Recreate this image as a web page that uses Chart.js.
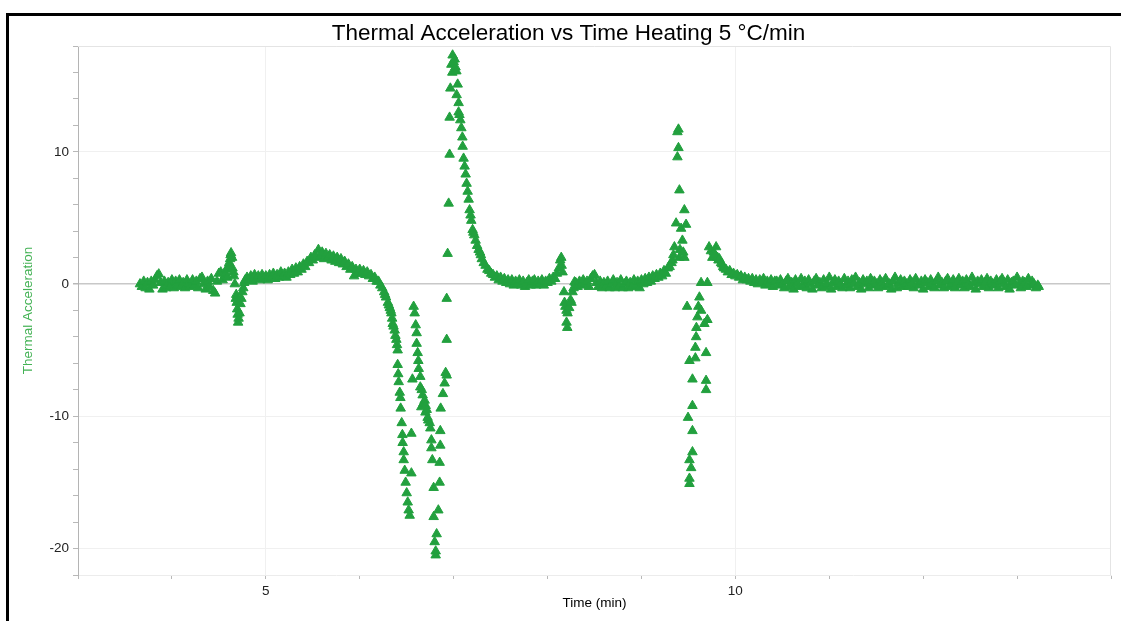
<!DOCTYPE html>
<html>

<head>
    <meta charset="utf-8">
    <title>Thermal Acceleration vs Time</title>
    <script src="https://cdn.jsdelivr.net/npm/chart.js"></script>
    <style>
        html, body { margin: 0; padding: 0; background: #fff; overflow: hidden; }
        #wrap { position: relative; width: 1121px; height: 621px; }
        #frame {
            position: absolute; left: 6px; top: 13px; width: 1200px; height: 700px;
            border-top: 3px solid #000; border-left: 3px solid #000;
            pointer-events: none;
        }
    </style>
</head>

<body>
    <div id="wrap">
        <canvas id="myChart" width="1121" height="621"></canvas>
        <div id="frame"></div>
    </div>

    <script>
        // [time (min), thermal acceleration], one array per stretch of the run
        var segStart = [
            [3.66,0.0],[3.68,-0.2],[3.70,0.2],[3.72,-0.3],[3.74,0.1],[3.76,-0.4],[3.78,0.2],[3.80,-0.1],[3.82,0.3],[3.84,0.6],
            [3.86,0.75],[3.88,0.1],[3.90,-0.4],[3.92,0.2],[3.94,-0.3],[3.96,0.1],[3.98,-0.2],[4.00,0.3],[4.02,-0.3],[4.04,0.2],
            [4.06,-0.1],[4.08,0.3],[4.10,-0.2],[4.12,0.1],[4.14,-0.3],[4.16,0.3],[4.18,0.0],[4.20,-0.2],[4.22,0.3],[4.24,-0.1],
            [4.26,0.2],[4.28,-0.3],[4.30,0.4],[4.32,0.5],[4.34,0.0],[4.36,-0.4],[4.38,0.2],[4.40,-0.2],[4.42,0.4],[4.44,-0.5],
            [4.46,-0.7],[4.48,0.2],[4.50,0.8],[4.52,0.9],[4.54,0.3]
        ];
        var segBump = [
            [4.56,0.6],[4.57,0.8],[4.58,1.1],[4.59,0.5],[4.60,1.3],[4.61,1.6],[4.62,1.9],[4.625,2.2],[4.63,2.35],[4.64,2.0],
            [4.645,1.2],[4.655,0.9],[4.66,0.6],[4.67,0.0],[4.68,-1.1],[4.685,-0.8],[4.69,-1.4],[4.695,-1.9],[4.70,-2.3],[4.705,-2.9],
            [4.71,-2.6],[4.72,-2.2],[4.73,-1.5],[4.74,-1.1],[4.75,-0.6],[4.76,-0.3],[4.77,0.1],[4.78,0.3]
        ];
        var segHump = [
            [4.80,0.5],[4.82,0.3],[4.84,0.6],[4.86,0.2],[4.88,0.7],[4.90,0.4],[4.92,0.6],[4.94,0.3],[4.96,0.7],[4.98,0.4],
            [5.00,0.6],[5.02,0.3],[5.04,0.7],[5.06,0.5],[5.08,0.8],[5.10,0.4],[5.12,0.7],[5.14,0.5],[5.16,0.9],[5.18,0.6],
            [5.20,0.8],[5.22,0.5],[5.24,0.9],[5.26,0.7],[5.28,1.1],[5.30,0.8],[5.32,1.2],[5.34,0.9],[5.36,1.3],[5.38,1.1],
            [5.40,1.5],[5.42,1.3],[5.44,1.7],[5.46,1.6],[5.48,2.0],[5.50,1.8],[5.52,2.2],[5.54,2.0],[5.56,2.6],[5.58,2.1],
            [5.60,2.4],[5.62,1.9],[5.64,2.3],[5.66,2.0],[5.68,2.2],[5.70,1.8],[5.72,2.1],[5.74,1.7],[5.76,2.0],[5.78,1.6],
            [5.80,1.9],[5.82,1.5],[5.84,1.7],[5.86,1.3],[5.88,1.5],[5.90,1.1],[5.92,1.3],[5.94,0.6],[5.96,1.1],[5.98,0.8],
            [6.00,1.1],[6.02,0.8],[6.04,1.0],[6.06,0.7],[6.08,0.9],[6.10,0.6],[6.12,0.7],[6.14,0.4],[6.16,0.5],[6.18,0.2],
            [6.20,0.2],[6.22,-0.1]
        ];
        var segDrop1 = [
            [6.24,-0.3],[6.26,-0.6],[6.27,-0.8],[6.28,-1.0],[6.30,-1.4],[6.31,-1.6],[6.32,-1.8],[6.33,-2.0],[6.337,-2.2],[6.345,-2.6],
            [6.351,-3.0],[6.36,-3.2],[6.372,-3.5],[6.38,-3.9],[6.39,-4.2],[6.397,-4.6],[6.404,-5.0],[6.404,-6.1],[6.41,-6.8],[6.415,-7.4],
            [6.426,-8.2],[6.433,-8.6],[6.436,-9.4],[6.447,-10.5],[6.454,-11.4],[6.457,-12.0],[6.468,-12.7],[6.468,-13.3],[6.479,-14.1],[6.489,-15.0],
            [6.50,-15.8],[6.511,-16.5],[6.521,-17.1],[6.532,-17.5],[6.55,-11.3],[6.55,-14.3],[6.561,-7.2]
        ];
        var segDrop2 = [
            [6.574,-1.7],[6.585,-2.2],[6.596,-3.1],[6.606,-3.7],[6.606,-4.5],[6.617,-5.2],[6.624,-5.8],[6.628,-6.4],[6.645,-7.0],[6.645,-7.8],
            [6.656,-9.3],[6.66,-8.0],[6.670,-8.4],[6.68,-9.0],[6.691,-8.8],[6.70,-9.7],[6.702,-9.2],[6.713,-9.5],[6.723,-10.1],[6.73,-10.3],
            [6.745,-10.5],[6.752,-10.9],[6.763,-11.8],[6.763,-12.4],[6.773,-13.3],[6.787,-15.4],[6.787,-17.6],[6.798,-19.5],[6.809,-20.2],[6.809,-20.5]
        ];
        var segRise = [
            [6.819,-18.9],[6.837,-17.1],[6.851,-15.0],[6.851,-13.5],[6.858,-12.2],[6.858,-11.1],[6.862,-9.4],[6.886,-8.3],[6.904,-7.5],[6.915,-6.7],
            [6.926,-6.9],[6.926,-4.2],[6.926,-1.1]
        ];
        var segPeak = [
            [6.936,2.3],[6.947,6.1],[6.957,9.8],[6.957,12.6],[6.965,14.8],[6.976,16.6],[6.986,16.0],[6.989,17.3],[7.00,16.8],[7.011,17.0],
            [7.02,16.4],[7.029,16.1]
        ];
        var segDecay = [
            [7.032,14.3],[7.043,15.1],[7.053,13.7],[7.053,13.0],[7.062,12.8],[7.071,12.4],[7.082,11.8],[7.093,11.1],[7.096,10.4],[7.106,9.5],
            [7.117,8.9],[7.128,8.3],[7.138,7.6],[7.149,7.0],[7.160,6.4],[7.170,5.6],[7.18,5.2],[7.188,4.8],[7.202,4.1],[7.21,3.9],
            [7.22,3.7],[7.234,3.3],[7.25,2.9],[7.266,2.6],[7.28,2.4],[7.29,2.2],[7.30,1.9],[7.32,1.6],[7.34,1.4],[7.36,1.1],
            [7.38,1.0],[7.40,0.8],[7.42,0.7],[7.44,0.5],[7.46,0.6],[7.48,0.3],[7.50,0.5],[7.52,0.2],[7.54,0.4],[7.56,0.1],
            [7.58,0.3],[7.60,0.0],[7.62,0.3],[7.64,-0.1],[7.66,0.2],[7.68,0.0],[7.70,0.3],[7.72,-0.1],[7.74,0.2],[7.76,-0.2],
            [7.78,0.1],[7.80,0.3],[7.82,-0.1],[7.84,0.2]
        ];
        var segSmallPeak = [
            [7.86,0.3],[7.88,-0.1],[7.90,0.2],[7.92,0.0],[7.94,0.3],[7.96,-0.1],[7.98,0.2],[8.00,0.1],[8.02,0.4],[8.04,0.2],
            [8.06,0.5],[8.08,0.4],[8.10,0.8],[8.12,1.2],[8.135,1.8],[8.146,2.0],[8.15,1.4],[8.16,0.9],[8.175,-0.6],[8.181,-1.4],
            [8.19,-1.7],[8.202,-2.0],[8.202,-2.9],[8.21,-3.3],[8.213,-2.2],[8.23,-1.8],[8.245,-1.2],[8.255,-1.4],[8.266,-0.6],[8.277,-0.3],
            [8.287,0.15]
        ];
        var segFlat2 = [
            [8.30,0.1],[8.32,-0.2],[8.34,0.2],[8.36,-0.1],[8.38,0.3],[8.40,0.0],[8.42,0.2],[8.44,-0.2],[8.46,0.4],[8.48,0.6],
            [8.50,0.7],[8.52,0.1],[8.54,-0.2],[8.56,0.2],[8.58,-0.3],[8.60,0.1],[8.62,-0.2],[8.64,0.2],[8.66,-0.3],[8.68,0.0],
            [8.70,0.3],[8.72,-0.3],[8.74,0.1],[8.76,-0.2],[8.78,0.3],[8.80,-0.3],[8.82,0.0],[8.84,0.2],[8.86,-0.3],[8.88,0.1],
            [8.90,-0.2],[8.92,0.3],[8.94,-0.1],[8.96,0.2],[8.98,-0.3],[9.00,0.3],[9.02,0.0],[9.04,0.4],[9.06,0.1],[9.08,0.5],
            [9.10,0.2],[9.12,0.6],[9.14,0.4],[9.16,0.7],[9.18,0.5],[9.20,0.8]
        ];
        var segSpike = [
            [9.22,0.6],[9.24,1.0],[9.26,0.8],[9.28,1.2],[9.30,1.3],[9.32,1.6],[9.33,1.8],[9.34,2.2],[9.351,2.8],[9.369,4.6],
            [9.383,9.6],[9.383,11.5],[9.394,10.3],[9.394,11.7],[9.404,7.1],[9.404,2.0],[9.41,2.6],[9.422,4.2],[9.436,3.3],[9.445,2.4],
            [9.457,2.0],[9.457,5.6],[9.475,4.5]
        ];
        var segSpikeDip = [
            [9.486,-1.7],[9.511,-5.8],[9.543,-7.2],[9.543,-9.2],[9.496,-10.1],[9.543,-11.1],[9.543,-12.7],[9.511,-13.3],[9.529,-13.9],[9.511,-14.7],
            [9.511,-15.1],[9.574,-5.6],[9.574,-4.8],[9.582,-4.0],[9.585,-3.3],[9.596,-2.5],[9.606,-1.7],[9.617,-1.0],[9.635,0.1],[9.635,-2.0],
            [9.670,-3.0],[9.702,-2.7],[9.688,-5.2],[9.688,-7.3],[9.688,-8.0],[9.702,0.1]
        ];
        var segAfter = [
            [9.72,2.8],[9.74,2.5],[9.755,2.0],[9.77,2.4],[9.78,2.2],[9.795,2.8],[9.81,2.0],[9.82,1.8],[9.83,1.9],[9.848,1.6],
            [9.86,1.5],[9.87,1.3],[9.88,1.2],[9.90,1.1],[9.92,0.9],[9.94,1.0],[9.96,0.7],[9.98,0.8],[10.00,0.6],[10.02,0.7],
            [10.04,0.5],[10.06,0.6],[10.08,0.3],[10.10,0.5],[10.12,0.3],[10.14,0.4],[10.16,0.2],[10.18,0.4],[10.20,0.1],[10.22,0.3],
            [10.24,0.0],[10.26,0.3],[10.28,0.1],[10.30,0.4],[10.32,-0.1],[10.34,0.2],[10.36,0.0],[10.38,0.3],[10.40,-0.2],[10.42,0.2]
        ];
        var segTail = [
            [10.44,0.2],[10.46,-0.1],[10.48,0.3],[10.50,0.0],[10.52,-0.3],[10.54,0.2],[10.56,0.4],[10.58,-0.2],[10.60,0.1],[10.62,-0.4],
            [10.64,0.3],[10.66,0.0],[10.68,-0.2],[10.70,0.4],[10.72,-0.1],[10.74,0.2],[10.76,-0.3],[10.78,0.3],[10.80,0.0],[10.82,-0.4],
            [10.84,0.2],[10.86,0.4],[10.88,-0.1],[10.90,0.1],[10.92,-0.3],[10.94,0.3],[10.96,-0.2],[10.98,0.0],[11.00,0.5],[11.02,-0.4],
            [11.04,0.1],[11.06,0.3],[11.08,-0.2],[11.10,0.2],[11.12,0.0],[11.14,-0.3],[11.16,0.4],[11.18,-0.1],[11.20,0.2],[11.22,-0.3],
            [11.24,0.3],[11.26,0.0],[11.28,0.5],[11.30,-0.2],[11.32,0.1],[11.34,-0.4],[11.36,0.3],[11.38,0.0],[11.40,0.2],[11.42,-0.3],
            [11.44,0.4],[11.46,-0.1],[11.48,0.2],[11.50,0.0],[11.52,-0.3],[11.54,0.3],[11.56,0.1],[11.58,-0.2],[11.60,0.4],[11.62,-0.1],
            [11.64,0.0],[11.66,-0.4],[11.68,0.2],[11.70,0.5],[11.72,-0.3],[11.74,0.1],[11.76,0.3],[11.78,-0.2],[11.80,0.2],[11.82,0.0],
            [11.84,-0.2],[11.86,0.3],[11.88,0.1],[11.90,-0.3],[11.92,0.4],[11.94,0.0],[11.96,-0.1],[11.98,0.2],[12.00,-0.4],[12.02,0.3],
            [12.04,0.1],[12.06,-0.2],[12.08,0.3],[12.10,0.0],[12.12,-0.3],[12.14,0.2],[12.16,0.5],[12.18,-0.1],[12.20,0.1],[12.22,-0.3],
            [12.24,0.2],[12.26,0.4],[12.28,-0.2],[12.30,0.0],[12.32,0.3],[12.34,-0.3],[12.36,0.1],[12.38,0.4],[12.40,-0.1],[12.42,0.2],
            [12.44,-0.3],[12.46,0.3],[12.48,0.0],[12.50,-0.2],[12.52,0.5],[12.54,0.1],[12.56,-0.4],[12.58,0.2],[12.60,0.0],[12.62,0.3],
            [12.64,-0.2],[12.66,0.1],[12.68,0.4],[12.70,-0.3],[12.72,0.2],[12.74,0.0],[12.76,-0.1],[12.78,0.3],[12.80,-0.3],[12.82,0.2],
            [12.84,0.4],[12.86,0.0],[12.88,-0.2],[12.90,0.3],[12.92,-0.4],[12.94,0.1],[12.96,0.2],[12.98,-0.1],[13.00,0.5],[13.02,0.0],
            [13.04,-0.3],[13.06,0.2],[13.08,0.1],[13.10,-0.2],[13.12,0.4],[13.14,-0.1],[13.16,0.2],[13.18,0.0],[13.20,-0.3],[13.22,-0.1],
            [13.23,-0.2]
        ];
        var xLabelTicks = [5, 10];
        var yLabelTicks = [-20, -10, 0, 10];

        var GREEN = '#22a03e';

        var points = [].concat(segStart, segBump, segHump, segDrop1, segDrop2, segRise, segPeak, segDecay,
            segSmallPeak, segFlat2, segSpike, segSpikeDip, segAfter, segTail).map(function (p) {
            return { x: p[0], y: p[1] };
        });

        // faint top/right edge of the plot box
        var boxEdge = {
            id: 'boxEdge',
            afterDraw: function (chart) {
                var a = chart.chartArea, c = chart.ctx;
                c.save();
                c.strokeStyle = '#e4e4e4';
                c.lineWidth = 1;
                c.beginPath();
                c.moveTo(a.left, a.top + 0.5);
                c.lineTo(a.right - 0.5, a.top + 0.5);
                c.lineTo(a.right - 0.5, a.bottom);
                c.stroke();
                c.restore();
            }
        };

        Chart.defaults.font.family = '"Liberation Sans", Arial, sans-serif';

        const ctx = document.getElementById('myChart').getContext('2d');
        const myChart = new Chart(ctx, {
            type: 'scatter',
            data: {
                datasets: [{
                    label: 'Thermal Acceleration',
                    data: points,
                    pointStyle: 'triangle',
                    pointRadius: 5.5,
                    borderWidth: 1,
                    backgroundColor: GREEN,
                    borderColor: GREEN
                }]
            },
            options: {
                responsive: false,
                animation: false,
                layout: { padding: { left: 26, right: 10, top: 10, bottom: 0 } },
                plugins: {
                    legend: { display: false },
                    tooltip: { enabled: false },
                    title: {
                        display: true,
                        text: 'Thermal Acceleration vs Time Heating 5 °C/min',
                        color: '#000',
                        font: { size: 22.5, weight: 'normal', lineHeight: 1.0 },
                        padding: { top: 12.75, bottom: 0.75 }
                    }
                },
                scales: {
                    x: {
                        type: 'linear',
                        min: 3,
                        max: 14,
                        afterFit: function (s) { s.height = 46; },
                        ticks: {
                            stepSize: 1,
                            padding: 4,
                            color: '#222',
                            font: { size: 13.5 },
                            maxRotation: 0,
                            autoSkip: false,
                            callback: function (v) { return xLabelTicks.indexOf(v) >= 0 ? String(v) : ''; }
                        },
                        grid: {
                            drawTicks: true,
                            tickLength: 4,
                            tickColor: '#b8b8b8',
                            color: function (c) {
                                return c.tick && xLabelTicks.indexOf(c.tick.value) >= 0 ? '#f0f0f0' : 'rgba(0,0,0,0)';
                            }
                        },
                        border: { color: '#ececec', width: 1 },
                        title: {
                            display: true,
                            text: 'Time (min)',
                            color: '#000',
                            font: { size: 13.5 },
                            padding: { top: 0, bottom: 10 }
                        }
                    },
                    y: {
                        type: 'linear',
                        min: -22,
                        max: 18,
                        afterFit: function (s) { s.width = 52; },
                        ticks: {
                            stepSize: 2,
                            padding: 4,
                            color: '#222',
                            font: { size: 13.5 },
                            autoSkip: false,
                            callback: function (v) { return yLabelTicks.indexOf(v) >= 0 ? String(v) : ''; }
                        },
                        grid: {
                            drawTicks: true,
                            tickLength: 5,
                            tickColor: '#b8b8b8',
                            lineWidth: function (c) { return c.tick && c.tick.value === 0 ? 1.5 : 1; },
                            color: function (c) {
                                if (!c.tick) return 'rgba(0,0,0,0)';
                                if (c.tick.value === 0) return '#c8c8c8';
                                return yLabelTicks.indexOf(c.tick.value) >= 0 ? '#f0f0f0' : 'rgba(0,0,0,0)';
                            }
                        },
                        border: { color: '#b4b4b4', width: 1 },
                        title: {
                            display: true,
                            text: 'Thermal Acceleration',
                            color: '#44b255',
                            font: { size: 13.5 },
                            padding: { top: -6, bottom: 0 }
                        }
                    }
                }
            },
            plugins: [boxEdge]
        });
    </script>
</body>

</html>
